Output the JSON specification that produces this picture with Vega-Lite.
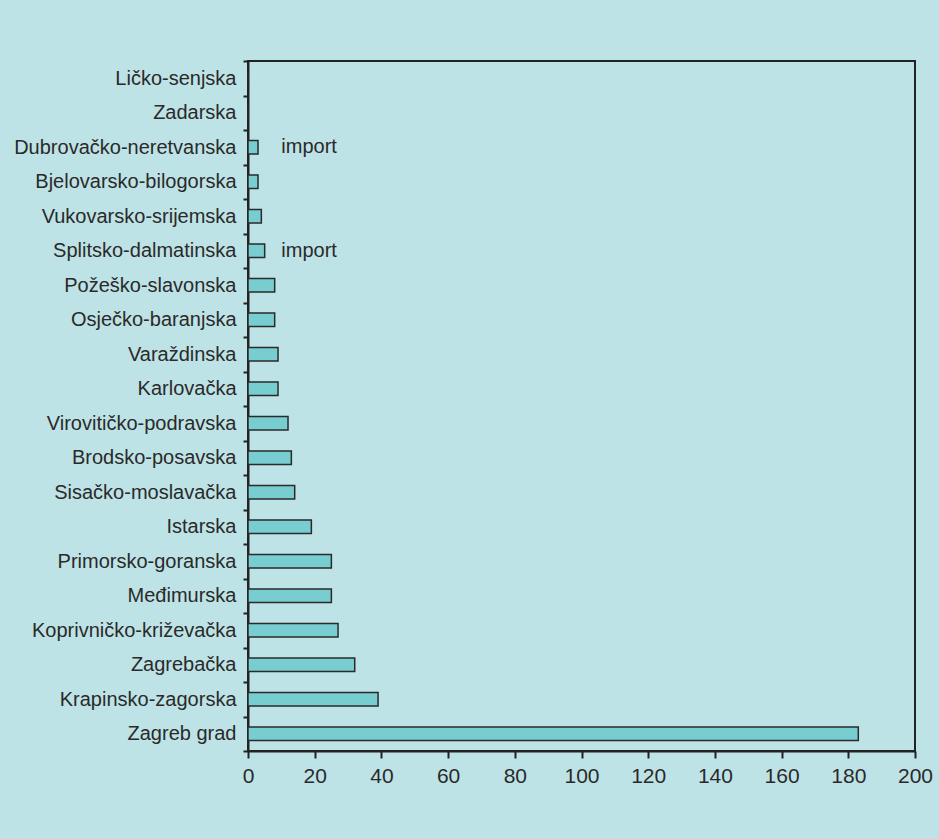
{
  "$schema": "https://vega.github.io/schema/vega-lite/v6.json",
  "autosize": {"type": "none"},
  "padding": {"left": 248, "top": 61, "right": 24, "bottom": 88},
  "width": 667,
  "height": 690,
  "background": "#bee3e6",
  "config": {
    "font": "Liberation Sans",
    "view": {"stroke": "#222222", "strokeWidth": 2},
    "axis": {
      "labelFont": "Liberation Sans",
      "labelFontSize": 20,
      "labelColor": "#2a2a2a",
      "labelLimit": 0,
      "domainColor": "#222222",
      "domainWidth": 2,
      "tickColor": "#222222",
      "tickWidth": 2,
      "grid": false,
      "title": null
    }
  },
  "data": {
    "values": [
      {"zupanija": "Ličko-senjska", "vrijednost": 0, "napomena": ""},
      {"zupanija": "Zadarska", "vrijednost": 0, "napomena": ""},
      {"zupanija": "Dubrovačko-neretvanska", "vrijednost": 3, "napomena": "import"},
      {"zupanija": "Bjelovarsko-bilogorska", "vrijednost": 3, "napomena": ""},
      {"zupanija": "Vukovarsko-srijemska", "vrijednost": 4, "napomena": ""},
      {"zupanija": "Splitsko-dalmatinska", "vrijednost": 5, "napomena": "import"},
      {"zupanija": "Požeško-slavonska", "vrijednost": 8, "napomena": ""},
      {"zupanija": "Osječko-baranjska", "vrijednost": 8, "napomena": ""},
      {"zupanija": "Varaždinska", "vrijednost": 9, "napomena": ""},
      {"zupanija": "Karlovačka", "vrijednost": 9, "napomena": ""},
      {"zupanija": "Virovitičko-podravska", "vrijednost": 12, "napomena": ""},
      {"zupanija": "Brodsko-posavska", "vrijednost": 13, "napomena": ""},
      {"zupanija": "Sisačko-moslavačka", "vrijednost": 14, "napomena": ""},
      {"zupanija": "Istarska", "vrijednost": 19, "napomena": ""},
      {"zupanija": "Primorsko-goranska", "vrijednost": 25, "napomena": ""},
      {"zupanija": "Međimurska", "vrijednost": 25, "napomena": ""},
      {"zupanija": "Koprivničko-križevačka", "vrijednost": 27, "napomena": ""},
      {"zupanija": "Zagrebačka", "vrijednost": 32, "napomena": ""},
      {"zupanija": "Krapinsko-zagorska", "vrijednost": 39, "napomena": ""},
      {"zupanija": "Zagreb grad", "vrijednost": 183, "napomena": ""}
    ]
  },
  "encoding": {
    "y": {
      "field": "zupanija",
      "type": "nominal",
      "sort": null,
      "scale": {"paddingInner": 0, "paddingOuter": 0},
      "axis": {
        "tickBand": "extent",
        "tickSize": 5,
        "labelPadding": 7
      }
    }
  },
  "layer": [
    {
      "mark": {
        "type": "bar",
        "height": {"band": 0.39},
        "fill": "#78cdd0",
        "stroke": "#2a2a2a",
        "strokeWidth": 1.5
      },
      "encoding": {
        "x": {
          "field": "vrijednost",
          "type": "quantitative",
          "scale": {"domain": [0, 200], "nice": false},
          "axis": {
            "values": [0, 20, 40, 60, 80, 100, 120, 140, 160, 180, 200],
            "tickSize": 7,
            "labelFontSize": 21,
            "labelPadding": 7,
            "labelFlush": false
          }
        }
      }
    },
    {
      "transform": [{"filter": "datum.napomena !== ''"}],
      "mark": {
        "type": "text",
        "align": "left",
        "baseline": "middle",
        "fontSize": 20,
        "font": "Liberation Sans",
        "color": "#2a2a2a"
      },
      "encoding": {
        "x": {"datum": 10, "type": "quantitative"},
        "text": {"field": "napomena"}
      }
    }
  ]
}
